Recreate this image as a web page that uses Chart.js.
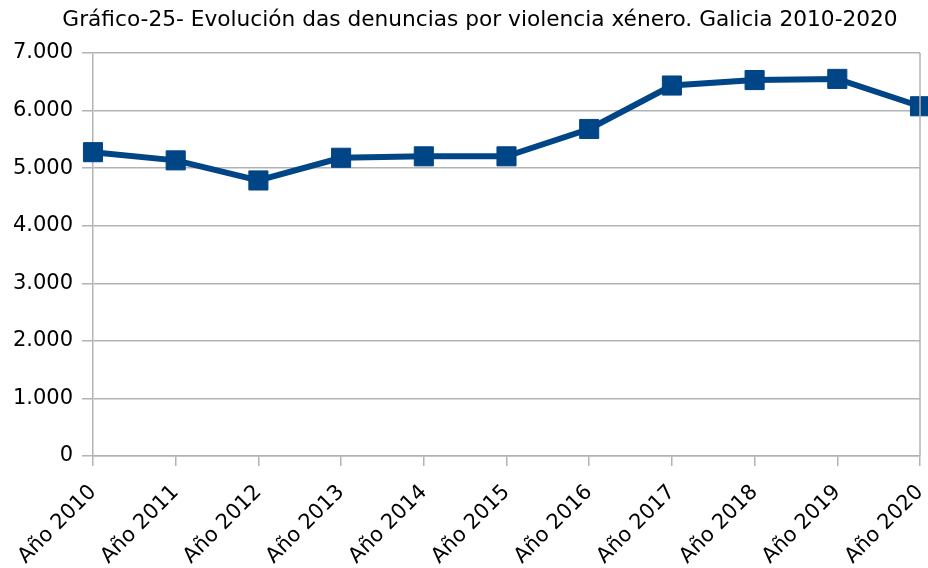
<!DOCTYPE html>
<html><head><meta charset="utf-8">
<script src="https://cdn.jsdelivr.net/npm/chart.js@4/dist/chart.umd.min.js"></script>
<style>html,body{margin:0;padding:0;background:#fff}#wrap{width:928px;height:568px;position:relative}</style>
</head><body><div id="wrap"><canvas id="c" width="928" height="568"></canvas></div>
<script>
const categories = ["Año 2010","Año 2011","Año 2012","Año 2013","Año 2014","Año 2015","Año 2016","Año 2017","Año 2018","Año 2019","Año 2020"];
const denuncias = [5277, 5135, 4786, 5180, 5205, 5205, 5680, 6435, 6530, 6550, 6075];
const titleText = "Gráfico-25- Evolución das denuncias por violencia xénero. Galicia 2010-2020";
const yTicks = [0,1000,2000,3000,4000,5000,6000,7000];

const FONT = "DejaVu Sans";
const ch = new Chart(document.getElementById('c'), {
  type: 'line',
  data: { labels: categories, datasets: [{
    data: denuncias, borderColor: '#004586', backgroundColor: '#004586',
    borderWidth: 6, pointStyle: 'rect', pointRadius: 13.5, pointHoverRadius: 13.5,
    pointBorderWidth: 1, tension: 0, fill: false, clip: false
  }]},
  options: {
    responsive: false, animation: false, devicePixelRatio: 1,
    layout: { autoPadding: false, padding: { left: 0, right: 0, top: 53, bottom: 0 } },
    plugins: { legend: { display: false }, tooltip: { enabled: false }, title: { display: false } },
    scales: {
      x: { offset: false,
        grid: { display: true, drawOnChartArea: false, color: '#b3b3b3', tickLength: 10, lineWidth: 1.5 },
        border: { color: '#b3b3b3', width: 1.5 },
        ticks: { color: '#000', font: { family: FONT, size: 21 }, minRotation: 45, maxRotation: 45, padding: 14, autoSkip: false },
        afterFit: s => { s.height = 112; s.paddingLeft = 0; s.paddingRight = 8; }
      },
      y: { min: 0, max: 7000,
        afterBuildTicks: s => { s.ticks = yTicks.map(v => ({ value: v })); },
        grid: { color: '#b3b3b3', tickLength: 11, lineWidth: 1.5 },
        border: { color: '#b3b3b3', width: 1.5 },
        ticks: { color: '#000', font: { family: FONT, size: 21 }, padding: 9,
          callback: v => v.toLocaleString('de-DE') },
        afterFit: s => { s.width = 93; s.paddingTop = 0; s.paddingBottom = 0; }
      }
    }
  },
  plugins: [{
    id: 'extras',
    afterDraw(chart) {
      const a = chart.chartArea, ctx = chart.ctx;
      ctx.save(); ctx.strokeStyle = '#b3b3b3'; ctx.lineWidth = 1.5;
      ctx.beginPath(); ctx.moveTo(a.right, a.top); ctx.lineTo(a.right, a.bottom); ctx.stroke();
      ctx.fillStyle = '#000'; ctx.font = '21.7px "' + FONT + '"';
      ctx.textAlign = 'center'; ctx.textBaseline = 'middle';
      ctx.fillText(titleText, 480, 20);
      ctx.restore();
    }
  }]
});
</script></body></html>
